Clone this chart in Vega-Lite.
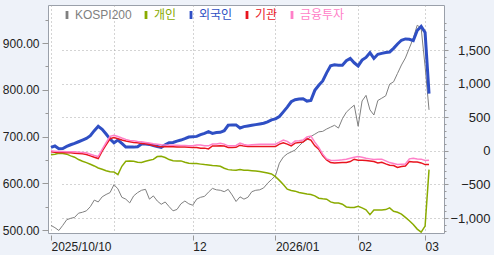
{
  "$schema": "https://vega.github.io/schema/vega-lite/v6.json",
  "width": 396,
  "height": 228,
  "autosize": {"type": "none"},
  "padding": {"left": 48, "top": 5, "right": 50, "bottom": 22},
  "background": "#eef2f9",
  "config": {
    "view": {"fill": "white", "stroke": "#9aa0aa", "strokeWidth": 1},
    "font": "Liberation Sans, Noto Sans CJK KR, sans-serif"
  },
  "data": {
    "values": [
      {"date": "2025-10-10", "KOSPI200": 510, "개인": -60, "외국인": 50, "기관": -15, "금융투자": 0},
      {"date": "2025-10-13", "KOSPI200": 505, "개인": -50, "외국인": 72, "기관": -20, "금융투자": -5},
      {"date": "2025-10-14", "KOSPI200": 499, "개인": -38, "외국인": 30, "기관": -25, "금융투자": -10},
      {"date": "2025-10-15", "KOSPI200": 510, "개인": -40, "외국인": 35, "기관": -25, "금융투자": -10},
      {"date": "2025-10-16", "KOSPI200": 522, "개인": -50, "외국인": 65, "기관": -28, "금융투자": -15},
      {"date": "2025-10-17", "KOSPI200": 525, "개인": -75, "외국인": 90, "기관": -30, "금융투자": -15},
      {"date": "2025-10-20", "KOSPI200": 527, "개인": -95, "외국인": 110, "기관": -35, "금융투자": -15},
      {"date": "2025-10-21", "KOSPI200": 536, "개인": -130, "외국인": 135, "기관": -40, "금융투자": -20},
      {"date": "2025-10-22", "KOSPI200": 538, "개인": -155, "외국인": 160, "기관": -45, "금융투자": -25},
      {"date": "2025-10-23", "KOSPI200": 541, "개인": -175, "외국인": 185, "기관": -55, "금융투자": -30},
      {"date": "2025-10-24", "KOSPI200": 550, "개인": -200, "외국인": 225, "기관": -75, "금융투자": -50},
      {"date": "2025-10-27", "KOSPI200": 564, "개인": -225, "외국인": 300, "기관": -95, "금융투자": -70},
      {"date": "2025-10-28", "KOSPI200": 560, "개인": -255, "외국인": 365, "기관": -115, "금융투자": -85},
      {"date": "2025-10-29", "KOSPI200": 571, "개인": -275, "외국인": 320, "기관": -5, "금융투자": 20},
      {"date": "2025-10-30", "KOSPI200": 576, "개인": -297, "외국인": 250, "기관": 89, "금융투자": 120},
      {"date": "2025-10-31", "KOSPI200": 580, "개인": -310, "외국인": 175, "기관": 180, "금융투자": 215},
      {"date": "2025-11-03", "KOSPI200": 597, "개인": -315, "외국인": 120, "기관": 198, "금융투자": 230},
      {"date": "2025-11-04", "KOSPI200": 588, "개인": -355, "외국인": 160, "기관": 180, "금융투자": 213},
      {"date": "2025-11-05", "KOSPI200": 570, "개인": -230, "외국인": 110, "기관": 160, "금융투자": 190},
      {"date": "2025-11-06", "KOSPI200": 566, "개인": -155, "외국인": 55, "기관": 145, "금융투자": 170},
      {"date": "2025-11-07", "KOSPI200": 558, "개인": -152, "외국인": 55, "기관": 135, "금융투자": 155},
      {"date": "2025-11-10", "KOSPI200": 573, "개인": -155, "외국인": 55, "기관": 124, "금융투자": 150},
      {"date": "2025-11-11", "KOSPI200": 580, "개인": -170, "외국인": 60, "기관": 120, "금융투자": 140},
      {"date": "2025-11-12", "KOSPI200": 585, "개인": -172, "외국인": 100, "기관": 110, "금융투자": 134},
      {"date": "2025-11-13", "KOSPI200": 587, "개인": -155, "외국인": 100, "기관": 105, "금융투자": 125},
      {"date": "2025-11-14", "KOSPI200": 566, "개인": -140, "외국인": 95, "기관": 95, "금융투자": 115},
      {"date": "2025-11-17", "KOSPI200": 573, "개인": -128, "외국인": 78, "기관": 80, "금융투자": 105},
      {"date": "2025-11-18", "KOSPI200": 562, "개인": -85, "외국인": 65, "기관": 65, "금융투자": 99},
      {"date": "2025-11-19", "KOSPI200": 555, "개인": -80, "외국인": 50, "기관": 60, "금융투자": 90},
      {"date": "2025-11-20", "KOSPI200": 560, "개인": -100, "외국인": 90, "기관": 60, "금융투자": 88},
      {"date": "2025-11-21", "KOSPI200": 550, "개인": -130, "외국인": 120, "기관": 60, "금융투자": 84},
      {"date": "2025-11-24", "KOSPI200": 541, "개인": -148, "외국인": 124, "기관": 60, "금융투자": 84},
      {"date": "2025-11-25", "KOSPI200": 544, "개인": -150, "외국인": 145, "기관": 58, "금융투자": 84},
      {"date": "2025-11-26", "KOSPI200": 556, "개인": -150, "외국인": 160, "기관": 58, "금융투자": 80},
      {"date": "2025-11-27", "KOSPI200": 562, "개인": -170, "외국인": 180, "기관": 55, "금융투자": 78},
      {"date": "2025-11-28", "KOSPI200": 556, "개인": -185, "외국인": 205, "기관": 52, "금융투자": 76},
      {"date": "2025-12-01", "KOSPI200": 553, "개인": -188, "외국인": 210, "기관": 50, "금융투자": 74},
      {"date": "2025-12-02", "KOSPI200": 566, "개인": -190, "외국인": 215, "기관": 48, "금융투자": 85},
      {"date": "2025-12-03", "KOSPI200": 570, "개인": -198, "외국인": 240, "기관": 40, "금융투자": 85},
      {"date": "2025-12-04", "KOSPI200": 572, "개인": -205, "외국인": 260, "기관": 40, "금융투자": 76},
      {"date": "2025-12-05", "KOSPI200": 581, "개인": -210, "외국인": 285, "기관": 28, "금융투자": 74},
      {"date": "2025-12-08", "KOSPI200": 589, "개인": -220, "외국인": 260, "기관": 72, "금융투자": 100},
      {"date": "2025-12-09", "KOSPI200": 586, "개인": -223, "외국인": 272, "기관": 72, "금융투자": 100},
      {"date": "2025-12-10", "KOSPI200": 585, "개인": -230, "외국인": 275, "기관": 74, "금융투자": 114},
      {"date": "2025-12-11", "KOSPI200": 582, "개인": -260, "외국인": 300, "기관": 70, "금융투자": 100},
      {"date": "2025-12-12", "KOSPI200": 587, "개인": -280, "외국인": 380, "기관": 50, "금융투자": 74},
      {"date": "2025-12-15", "KOSPI200": 575, "개인": -287, "외국인": 386, "기관": 50, "금융투자": 74},
      {"date": "2025-12-16", "KOSPI200": 561, "개인": -290, "외국인": 386, "기관": 52, "금융투자": 80},
      {"date": "2025-12-17", "KOSPI200": 571, "개인": -280, "외국인": 340, "기관": 84, "금융투자": 114},
      {"date": "2025-12-18", "KOSPI200": 566, "개인": -290, "외국인": 360, "기관": 70, "금융투자": 95},
      {"date": "2025-12-19", "KOSPI200": 570, "개인": -290, "외국인": 370, "기관": 64, "금융투자": 84},
      {"date": "2025-12-22", "KOSPI200": 582, "개인": -295, "외국인": 380, "기관": 64, "금융투자": 90},
      {"date": "2025-12-23", "KOSPI200": 585, "개인": -300, "외국인": 390, "기관": 64, "금융투자": 95},
      {"date": "2025-12-24", "KOSPI200": 586, "개인": -308, "외국인": 400, "기관": 64, "금융투자": 99},
      {"date": "2025-12-26", "KOSPI200": 590, "개인": -318, "외국인": 410, "기관": 64, "금융투자": 99},
      {"date": "2025-12-29", "KOSPI200": 600, "개인": -330, "외국인": 430, "기관": 64, "금융투자": 99},
      {"date": "2025-12-30", "KOSPI200": 608, "개인": -345, "외국인": 460, "기관": 64, "금융투자": 99},
      {"date": "2026-01-02", "KOSPI200": 616, "개인": -385, "외국인": 475, "기관": 64, "금융투자": 99},
      {"date": "2026-01-05", "KOSPI200": 643, "개인": -440, "외국인": 510, "기관": 100, "금융투자": 130},
      {"date": "2026-01-06", "KOSPI200": 656, "개인": -500, "외국인": 580, "기관": 120, "금융투자": 160},
      {"date": "2026-01-07", "KOSPI200": 663, "개인": -570, "외국인": 650, "기관": 100, "금융투자": 140},
      {"date": "2026-01-08", "KOSPI200": 667, "개인": -590, "외국인": 730, "기관": 74, "금융투자": 100},
      {"date": "2026-01-09", "KOSPI200": 671, "개인": -600, "외국인": 760, "기관": 115, "금융투자": 145},
      {"date": "2026-01-12", "KOSPI200": 680, "개인": -620, "외국인": 770, "기관": 124, "금융투자": 150},
      {"date": "2026-01-13", "KOSPI200": 688, "개인": -632, "외국인": 775, "기관": 130, "금융투자": 160},
      {"date": "2026-01-14", "KOSPI200": 693, "개인": -644, "외국인": 740, "기관": 180, "금융투자": 205},
      {"date": "2026-01-15", "KOSPI200": 700, "개인": -650, "외국인": 750, "기관": 160, "금융투자": 220},
      {"date": "2026-01-16", "KOSPI200": 705, "개인": -670, "외국인": 900, "기관": 74, "금융투자": 130},
      {"date": "2026-01-19", "KOSPI200": 710, "개인": -705, "외국인": 976, "기관": 25, "금융투자": 50},
      {"date": "2026-01-20", "KOSPI200": 711, "개인": -715, "외국인": 1040, "기관": -70, "금융투자": -50},
      {"date": "2026-01-21", "KOSPI200": 716, "개인": -720, "외국인": 1160, "기관": -135, "금융투자": -120},
      {"date": "2026-01-22", "KOSPI200": 720, "개인": -760, "외국인": 1265, "기관": -175, "금융투자": -140},
      {"date": "2026-01-23", "KOSPI200": 724, "개인": -775, "외국인": 1280, "기관": -180, "금융투자": -145},
      {"date": "2026-01-26", "KOSPI200": 718, "개인": -778, "외국인": 1275, "기관": -176, "금융투자": -140},
      {"date": "2026-01-27", "KOSPI200": 738, "개인": -795, "외국인": 1273, "기관": -174, "금융투자": -134},
      {"date": "2026-01-28", "KOSPI200": 752, "개인": -835, "외국인": 1340, "기관": -174, "금융투자": -125},
      {"date": "2026-01-29", "KOSPI200": 760, "개인": -843, "외국인": 1375, "기관": -160, "금융투자": -110},
      {"date": "2026-01-30", "KOSPI200": 767, "개인": -843, "외국인": 1310, "기관": -125, "금융투자": -95},
      {"date": "2026-02-02", "KOSPI200": 722, "개인": -825, "외국인": 1263, "기관": -140, "금융투자": -85},
      {"date": "2026-02-03", "KOSPI200": 776, "개인": -850, "외국인": 1350, "기관": -140, "금융투자": -95},
      {"date": "2026-02-04", "KOSPI200": 788, "개인": -877, "외국인": 1390, "기관": -145, "금융투자": -110},
      {"date": "2026-02-05", "KOSPI200": 757, "개인": -950, "외국인": 1460, "기관": -150, "금융투자": -120},
      {"date": "2026-02-06", "KOSPI200": 746, "개인": -880, "외국인": 1375, "기관": -160, "금융투자": -130},
      {"date": "2026-02-09", "KOSPI200": 777, "개인": -880, "외국인": 1437, "기관": -180, "금융투자": -124},
      {"date": "2026-02-10", "KOSPI200": 782, "개인": -880, "외국인": 1450, "기관": -170, "금융투자": -124},
      {"date": "2026-02-11", "KOSPI200": 787, "개인": -875, "외국인": 1462, "기관": -195, "금융투자": -150},
      {"date": "2026-02-12", "KOSPI200": 812, "개인": -850, "외국인": 1471, "기관": -215, "금융투자": -175},
      {"date": "2026-02-13", "KOSPI200": 817, "개인": -900, "외국인": 1525, "기관": -220, "금융투자": -190},
      {"date": "2026-02-19", "KOSPI200": 835, "개인": -915, "외국인": 1590, "기관": -248, "금융투자": -205},
      {"date": "2026-02-20", "KOSPI200": 853, "개인": -942, "외국인": 1645, "기관": -235, "금융투자": -200},
      {"date": "2026-02-23", "KOSPI200": 868, "개인": -990, "외국인": 1665, "기관": -225, "금융투자": -195},
      {"date": "2026-02-24", "KOSPI200": 889, "개인": -1040, "외국인": 1660, "기관": -160, "금융투자": -120},
      {"date": "2026-02-25", "KOSPI200": 910, "개인": -1095, "외국인": 1640, "기관": -165, "금융투자": -110},
      {"date": "2026-02-26", "KOSPI200": 938, "개인": -1165, "외국인": 1790, "기관": -168, "금융투자": -120},
      {"date": "2026-02-27", "KOSPI200": 932, "개인": -1210, "외국인": 1850, "기관": -180, "금융투자": -124},
      {"date": "2026-03-03", "KOSPI200": 850, "개인": -1120, "외국인": 1760, "기관": -205, "금융투자": -145},
      {"date": "2026-03-04", "KOSPI200": 757, "개인": -280, "외국인": 850, "기관": -205, "금융투자": -140}
    ]
  },
  "transform": [
    {"fold": ["KOSPI200", "개인", "외국인", "기관", "금융투자"], "as": ["series", "v"]}
  ],
  "encoding": {
    "x": {
      "field": "date",
      "type": "ordinal",
      "sort": null,
      "scale": {"type": "point", "range": [1, 383]},
      "axis": {
        "title": null,
        "values": ["2025-10-10", "2025-11-03", "2025-12-01", "2026-01-02", "2026-02-02", "2026-03-03"],
        "labelExpr": "datum.value=='2025-10-10'?'2025/10/10':datum.value=='2025-12-01'?'12':datum.value=='2026-01-02'?'2026/01':datum.value=='2026-02-02'?'02':datum.value=='2026-03-03'?'03':''",
        "domain": false,
        "grid": true,
        "gridDash": [1, 3],
        "gridColor": "#a8a8a8",
        "tickColor": "#999999",
        "tickSize": 5,
        "offset": 2,
        "tickOpacity": {"condition": {"test": "datum.value=='2025-11-03'", "value": 0}, "value": 1},
        "labelAlign": "left",
        "labelAngle": 0,
        "labelPadding": 1,
        "labelFontSize": 12,
        "labelColor": "#222222",
        "labelOverlap": false,
        "labelBound": false
      }
    }
  },
  "layer": [
    {
      "transform": [{"filter": "datum.series === 'KOSPI200'"}],
      "mark": {"type": "line", "strokeWidth": 1},
      "encoding": {
        "y": {
          "field": "v",
          "type": "quantitative",
          "scale": {"domain": [493.6, 981.3], "nice": false, "zero": false},
          "axis": {
            "orient": "left",
            "title": null,
            "values": [500, 550, 600, 650, 700, 750, 800, 850, 900, 950],
            "labelExpr": "datum.value % 100 === 0 ? format(datum.value, '.2f') : ''",
            "domain": false,
            "grid": false,
            "tickColor": "#999999",
            "tickSize": {"condition": {"test": "datum.value % 100 === 0", "value": 6}, "value": 3},
            "labelPadding": 3,
            "labelFontSize": 12,
            "labelColor": "#222222",
            "labelOverlap": false
          }
        },
        "color": {
          "field": "series",
          "type": "nominal",
          "scale": {
            "domain": ["KOSPI200", "개인", "외국인", "기관", "금융투자"],
            "range": ["#808080", "#8aab00", "#2f4fc4", "#e8141e", "#ff7fc8"]
          },
          "legend": {
            "title": null,
            "orient": "none",
            "direction": "horizontal",
            "legendX": 13,
            "legendY": 4,
            "symbolType": "M-0.35,-1H0.35V1H-0.35Z",
            "symbolSize": 64,
            "symbolStrokeWidth": 0,
            "labelOffset": 2,
            "columnPadding": 8,
            "labelFontSize": 12,
            "labelFont": "Liberation Sans, Noto Sans CJK KR, sans-serif",
            "encode": {
              "symbols": {"update": {"fill": {"scale": "color", "field": "value"}, "strokeWidth": {"value": 0}}},
              "labels": {"update": {"fill": {"scale": "color", "field": "value"}}}
            }
          }
        }
      }
    },
    {
      "transform": [{"filter": "datum.series !== 'KOSPI200'"}],
      "mark": {"type": "line"},
      "encoding": {
        "y": {
          "field": "v",
          "type": "quantitative",
          "scale": {"domain": [-1223, 2170], "nice": false, "zero": false},
          "axis": {
            "orient": "right",
            "title": null,
            "values": [-1200, -1100, -1000, -900, -800, -700, -600, -500, -400, -300, -200, -100, 0, 100, 200, 300, 400, 500, 600, 700, 800, 900, 1000, 1100, 1200, 1300, 1400, 1500, 1600, 1700, 1800, 1900],
            "labelExpr": "datum.value % 500 === 0 ? format(datum.value, ',') : ''",
            "domain": false,
            "grid": true,
            "gridDash": [1, 3],
            "gridColor": "#a8a8a8",
            "gridOpacity": {"condition": {"test": "datum.value % 500 === 0", "value": 1}, "value": 0},
            "tickColor": "#999999",
            "tickSize": {"condition": {"test": "datum.value % 500 === 0", "value": 4}, "value": 2},
            "labelAlign": "right",
            "labelPadding": 42,
            "labelFontSize": 13,
            "labelColor": "#222222",
            "labelOverlap": false
          }
        },
        "color": {"field": "series", "type": "nominal"},
        "strokeWidth": {"condition": {"test": "datum.series === '외국인'", "value": 3}, "value": 1.5}
      }
    }
  ],
  "resolve": {"scale": {"y": "independent"}}
}
